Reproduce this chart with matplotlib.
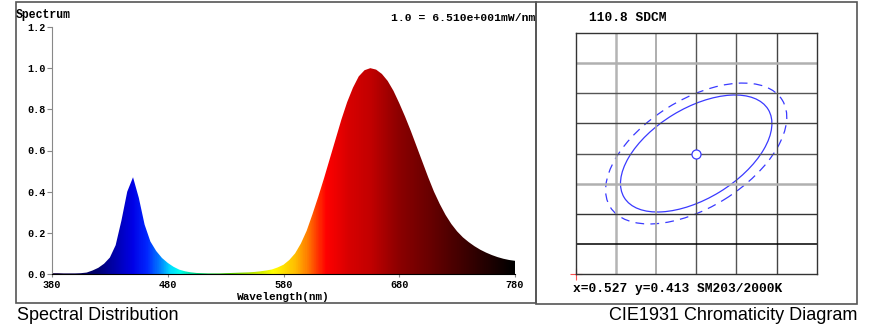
import matplotlib
matplotlib.use('Agg')
import matplotlib.pyplot as plt
import numpy as np
from matplotlib.colors import LinearSegmentedColormap
from matplotlib.patches import Ellipse, Rectangle

# spectral power distribution, relative, every 5 nm
wavelength = list(range(380, 785, 5))
spectrum = [0.004, 0.004, 0.003, 0.003, 0.003, 0.004, 0.007, 0.017, 0.030, 0.050,
            0.080, 0.140, 0.260, 0.400, 0.470, 0.370, 0.240, 0.158, 0.112, 0.078,
            0.054, 0.035, 0.021, 0.013, 0.008, 0.005, 0.004, 0.003, 0.003, 0.003,
            0.004, 0.005, 0.006, 0.007, 0.008, 0.010, 0.013, 0.017, 0.022, 0.032,
            0.045, 0.068, 0.100, 0.148, 0.210, 0.290, 0.375, 0.465, 0.560, 0.655,
            0.750, 0.835, 0.905, 0.960, 0.990, 1.000, 0.993, 0.972, 0.938, 0.890,
            0.830, 0.765, 0.695, 0.620, 0.545, 0.470, 0.400, 0.340, 0.287, 0.243,
            0.207, 0.178, 0.155, 0.135, 0.118, 0.104, 0.092, 0.082, 0.074, 0.068,
            0.064]
x_ticks = [380, 480, 580, 680, 780]
y_ticks = [0.0, 0.2, 0.4, 0.6, 0.8, 1.0, 1.2]

# chromaticity
cie_x = 0.527
cie_y = 0.413
sdcm = 110.8
inner_ellipse = (0.0210, 0.0112, 31.4)   # semi-major, semi-minor, angle
outer_ellipse = (0.0252, 0.0134, 31.8)
grid_x = [0.497, 0.507, 0.517, 0.527, 0.537, 0.547, 0.557]
grid_y = [0.383, 0.3905, 0.398, 0.4055, 0.413, 0.4205, 0.428, 0.4355, 0.443]

mono = 'Liberation Mono'

fig = plt.figure(figsize=(8.7, 3.33), dpi=100)

# ---- spectrum panel
ax = fig.add_axes([52/870, 1-274/333, 463/870, 247/333])
stops = [(380, (20, 0, 60)), (418, (0, 0, 110)), (433, (0, 0, 170)), (449, (0, 0, 230)),
         (462, (0, 40, 255)), (473, (0, 130, 255)), (482, (0, 220, 255)), (490, (0, 255, 240)),
         (505, (0, 210, 120)), (530, (60, 200, 0)), (555, (190, 230, 0)), (571, (255, 255, 0)),
         (590, (255, 190, 0)), (600, (255, 130, 0)), (610, (255, 50, 0)), (617, (255, 0, 0)),
         (637, (215, 0, 0)), (655, (195, 0, 0)), (680, (140, 0, 0)), (710, (100, 0, 0)),
         (738, (60, 0, 0)), (780, (0, 0, 0))]
cmap = LinearSegmentedColormap.from_list(
    'spd', [((w - 380) / 400, tuple(c / 255 for c in col)) for w, col in stops])
grad = np.linspace(0, 1, 800).reshape(1, -1)
poly = ax.fill_between(wavelength, spectrum, 0, color='none', lw=0)
img = ax.imshow(grad, cmap=cmap, extent=[380, 780, 0, 1.2], aspect='auto',
                origin='lower', interpolation='bilinear')
img.set_clip_path(poly.get_paths()[0], transform=ax.transData)
ax.set_xlim(380, 780)
ax.set_ylim(0, 1.2)
ax.set_xticks(x_ticks)
ax.set_yticks(y_ticks)
ax.set_yticklabels([f'{v:.1f}' for v in y_ticks])
for lab in ax.get_xticklabels() + ax.get_yticklabels():
    lab.set_fontfamily(mono)
    lab.set_fontweight('bold')
    lab.set_fontsize(7.3)
ax.tick_params(axis='y', length=3.5, width=0.8, color='#888888', pad=1)
ax.tick_params(axis='x', length=2, width=0.8, color='#888888', pad=2)
ax.spines['top'].set_visible(False)
ax.spines['right'].set_visible(False)
ax.spines['left'].set_color('#888888')
ax.spines['bottom'].set_color('#000000')
ax.set_xlabel('Wavelength(nm)', family=mono, weight='bold', fontsize=7.9, labelpad=2)

fig.text(16/870, 1-15/333, 'Spectrum', family=mono, weight='bold', fontsize=8.3, va='center')
fig.text(535/870, 1-18/333, '1.0 = 6.510e+001mW/nm', family=mono, weight='bold',
         fontsize=8.2, va='center', ha='right')

# ---- chromaticity panel
cx = fig.add_axes([575.7/870, 1-274.3/333, 241/870, 241.6/333])
cx.set_xlim(grid_x[0], grid_x[-1])
cx.set_ylim(grid_y[0], grid_y[-1])
v_colors = ['#b4b4b4', '#a8a8a8', '#555555', '#555555', '#444444']
v_widths = [1.8, 1.3, 1.0, 1.0, 1.0]
h_colors = ['#000000', '#333333', '#b0b0b0', '#555555', '#444444', '#555555', '#b0b0b0']
h_widths = [1.1, 1.0, 1.8, 1.0, 1.0, 1.0, 1.8]
cx.vlines(grid_x[1:-1], grid_y[0], grid_y[-1], colors=v_colors, linewidths=v_widths)
cx.hlines(grid_y[1:-1], grid_x[0], grid_x[-1], colors=h_colors, linewidths=h_widths)
for s in cx.spines.values():
    s.set_color('#333333')
    s.set_linewidth(1.0)
cx.set_xticks([])
cx.set_yticks([])

a, b, ang = inner_ellipse
cx.add_patch(Ellipse((cie_x, cie_y), 2*a, 2*b, angle=ang, fill=False, ec='#3a3aff', lw=0.9))
a, b, ang = outer_ellipse
cx.add_patch(Ellipse((cie_x, cie_y), 2*a, 2*b, angle=ang, fill=False, ec='#3a3aff', lw=0.9,
                     ls=(0, (7, 5))))
cx.plot([cie_x], [cie_y], 'o', ms=6.5, mfc='white', mec='#3a3aff', mew=0.9)
cx.plot([grid_x[0]], [grid_y[0]], '+', ms=9, color='#ff5050', mew=0.8, clip_on=False)

fig.text(589/870, 1-18.3/333, f'{sdcm} SDCM', family=mono, weight='bold', fontsize=9.3, va='center')
fig.text(572.7/870, 1-289/333, f'x={cie_x:.3f} y={cie_y:.3f} SM203/2000K', family=mono,
         weight='bold', fontsize=9.3, va='center')

# ---- frames and captions
fig.add_artist(Rectangle((16/870, 1-303/333), 520/870, 301/333, transform=fig.transFigure,
                         fill=False, ec='#555555', lw=1.2))
fig.add_artist(Rectangle((536/870, 1-304/333), 321/870, 302/333, transform=fig.transFigure,
                         fill=False, ec='#555555', lw=1.2))
fig.text(17/870, 1-316/333, 'Spectral Distribution', family='Liberation Sans', fontsize=13,
         va='center')
fig.text(857/870, 1-316/333, 'CIE1931 Chromaticity Diagram', family='Liberation Sans',
         fontsize=13, va='center', ha='right')

fig.savefig('out.png', dpi=100)
